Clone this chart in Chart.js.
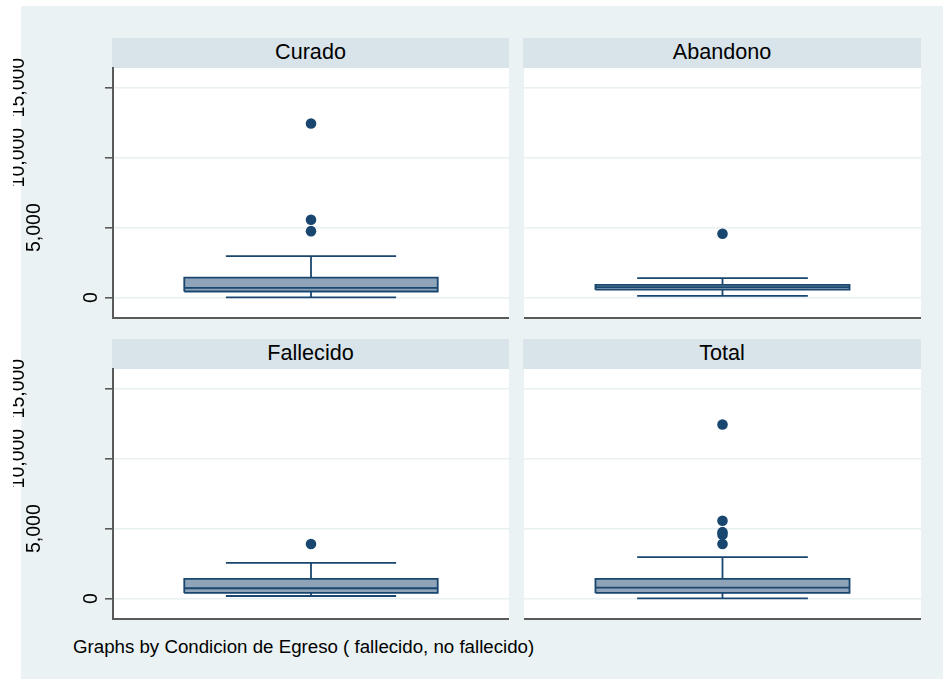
<!DOCTYPE html>
<html>
<head>
<meta charset="utf-8">
<script src="https://cdn.jsdelivr.net/npm/chart.js@4/dist/chart.umd.min.js"></script>
<style>
  html, body { margin: 0; padding: 0; background: #ffffff; }
  body { width: 943px; height: 679px; position: relative; overflow: hidden;
         font-family: 'Liberation Sans', Arial, sans-serif; }
  #graphRegion { position: absolute; left: 21px; top: 6px; right: 0; bottom: 0;
                 background: rgb(234, 242, 243); }
  .strip { position: absolute; height: 30px; line-height: 28px; text-align: center;
           background: rgb(216, 228, 233); color: #000; font-size: 21.6px; white-space: nowrap; }
  canvas { position: absolute; }
  #note { position: absolute; left: 73px; top: 638px; font-size: 18.7px; line-height: 18.7px;
          color: #000; white-space: nowrap; }
</style>
</head>
<body>
<div id="graphRegion"></div>
<div id="note"></div>
<script>
// Length of stay by discharge condition: one box plot per group
const groups       = ['Curado', 'Abandono', 'Fallecido', 'Total'];
const lowerWhisker = [20, 130, 190, 20];
const quartile1    = [440, 570, 410, 410];
const medians      = [700, 750, 745, 790];
const quartile3    = [1430, 910, 1410, 1410];
const upperWhisker = [2965, 1390, 2555, 2965];
const outsideCurado    = [12440, 5560, 4750];
const outsideAbandono  = [4560];
const outsideFallecido = [3900];
const outsideTotal     = [12440, 5560, 4750, 4560, 3900];
const outsideValues = [outsideCurado, outsideAbandono, outsideFallecido, outsideTotal];
const yTickValues = [0, 5000, 10000, 15000];
const yTickLabels = ['0', '5,000', '10,000', '15,000'];
const yRange = [-1430, 16400];
const noteText = 'Graphs by Condicion de Egreso ( fallecido, no fallecido)';

// styling
const NAVY = 'rgb(26, 71, 111)';
const BOX_FILL = 'rgb(143, 164, 184)';
const AXIS_COLOR = '#5a5a5a';
const GRID_COLOR = 'rgb(232, 240, 242)';
const BOX_HALF = 0.320;   // half box width, fraction of panel width
const CAP_HALF = 0.215;   // half whisker-cap width
const CENTER = 0.5;       // box position on the 0..1 horizontal scale
const STRIP_H = 30;

// panel frames (page pixels)
const frames = [
  { canvasLeft: 13,  plotLeft: 113, plotRight: 509, plotTop: 68,  plotBottom: 317.7, leftAxis: true },
  { canvasLeft: 524, plotLeft: 524, plotRight: 921, plotTop: 68,  plotBottom: 317.7, leftAxis: false },
  { canvasLeft: 13,  plotLeft: 113, plotRight: 509, plotTop: 369, plotBottom: 618.7, leftAxis: true },
  { canvasLeft: 524, plotLeft: 524, plotRight: 921, plotTop: 369, plotBottom: 618.7, leftAxis: false }
];

// white plot region behind the marks
const plotBackground = {
  id: 'plotBackground',
  beforeDraw(chart) {
    const a = chart.chartArea, ctx = chart.ctx;
    ctx.save();
    ctx.fillStyle = '#ffffff';
    ctx.fillRect(a.left, a.top, a.right - a.left, a.bottom - a.top);
    ctx.restore();
  }
};

// vertical y tick labels, reading bottom to top
const verticalTickLabels = {
  id: 'verticalTickLabels',
  afterDraw(chart, args, opts) {
    if (!opts.display) return;
    const s = chart.scales.y, ctx = chart.ctx;
    ctx.save();
    ctx.font = opts.font;
    ctx.fillStyle = opts.color;
    ctx.textAlign = 'center';
    ctx.textBaseline = 'alphabetic';
    s.ticks.forEach(t => {
      const label = yTickLabels[yTickValues.indexOf(t.value)];
      const w = ctx.measureText(label).width;
      const x = s.right - opts.shift * w;
      const y = s.getPixelForValue(t.value);
      ctx.save();
      ctx.translate(x, y);
      ctx.rotate(-Math.PI / 2);
      ctx.fillText(label, 0, 0);
      ctx.restore();
    });
    ctx.restore();
  }
};

// box outline, median, whiskers and caps as one broken polyline
function outlinePoints(i) {
  const c = CENTER, gap = { x: c, y: null };
  const l = c - BOX_HALF, r = c + BOX_HALF;
  return [
    { x: l, y: quartile1[i] }, { x: r, y: quartile1[i] }, { x: r, y: quartile3[i] },
    { x: l, y: quartile3[i] }, { x: l, y: quartile1[i] }, gap,
    { x: l, y: medians[i] }, { x: r, y: medians[i] }, gap,
    { x: c - CAP_HALF, y: upperWhisker[i] }, { x: c + CAP_HALF, y: upperWhisker[i] }, gap,
    { x: c, y: upperWhisker[i] }, { x: c, y: quartile3[i] }, gap,
    { x: c, y: quartile1[i] }, { x: c, y: lowerWhisker[i] }, gap,
    { x: c - CAP_HALF, y: lowerWhisker[i] }, { x: c + CAP_HALF, y: lowerWhisker[i] }
  ];
}

groups.forEach((name, i) => {
  const f = frames[i];
  const canvasTop = f.plotTop - STRIP_H;
  const plotWidth = f.plotRight - f.plotLeft;

  const strip = document.createElement('div');
  strip.className = 'strip';
  strip.style.left = (f.plotLeft - 1) + 'px';
  strip.style.top = canvasTop + 'px';
  strip.style.width = (plotWidth + 1) + 'px';
  strip.textContent = name;
  document.body.appendChild(strip);

  const canvas = document.createElement('canvas');
  const w = f.plotRight - f.canvasLeft;
  const h = Math.ceil(f.plotBottom - canvasTop + 3);
  canvas.width = w; canvas.height = h;
  canvas.style.left = f.canvasLeft + 'px';
  canvas.style.top = canvasTop + 'px';
  canvas.style.width = w + 'px'; canvas.style.height = h + 'px';
  document.body.appendChild(canvas);

  new Chart(canvas, {
    type: 'bar',
    data: {
      datasets: [
        {
          type: 'bar', data: [{ x: CENTER, y: [quartile1[i], quartile3[i]] }],
          backgroundColor: BOX_FILL, borderWidth: 0,
          barThickness: 2 * BOX_HALF * plotWidth, order: 3
        },
        {
          type: 'line', data: outlinePoints(i),
          borderColor: NAVY, borderWidth: 1.8, borderJoinStyle: 'miter', pointRadius: 0,
          spanGaps: false, fill: false, tension: 0, order: 2
        },
        {
          type: 'line', data: outsideValues[i].map(v => ({ x: CENTER, y: v })),
          showLine: false, pointRadius: 5.3, pointBackgroundColor: NAVY, pointBorderWidth: 0, order: 1
        }
      ]
    },
    options: {
      responsive: false, animation: false, events: [],
      devicePixelRatio: 1,
      layout: { autoPadding: false,
                padding: { top: STRIP_H, bottom: h - (f.plotBottom - canvasTop), left: 0, right: 0 } },
      plugins: {
        legend: { display: false }, tooltip: { enabled: false },
        verticalTickLabels: { display: f.leftAxis, font: '19.5px "Liberation Sans", Arial, sans-serif', color: '#000', shift: 1.49 }
      },
      scales: {
        x: {
          type: 'linear', min: 0, max: 1, offset: false,
          grid: { display: false, drawTicks: false, offset: false },
          ticks: { display: false },
          border: { display: true, color: AXIS_COLOR, width: 2 }
        },
        y: {
          type: 'linear', min: yRange[0], max: yRange[1],
          afterBuildTicks: s => { s.ticks = yTickValues.map(v => ({ value: v })); },
          afterFit: s => { s.width = f.plotLeft - f.canvasLeft; },
          ticks: { display: false },
          grid: { color: GRID_COLOR, lineWidth: 1.6, drawTicks: f.leftAxis, tickLength: 8,
                  tickColor: AXIS_COLOR, tickWidth: 1.6 },
          border: { display: f.leftAxis, color: AXIS_COLOR, width: 2 }
        }
      }
    },
    plugins: [plotBackground, verticalTickLabels]
  });
});

document.getElementById('note').textContent = noteText;
</script>
</body>
</html>
